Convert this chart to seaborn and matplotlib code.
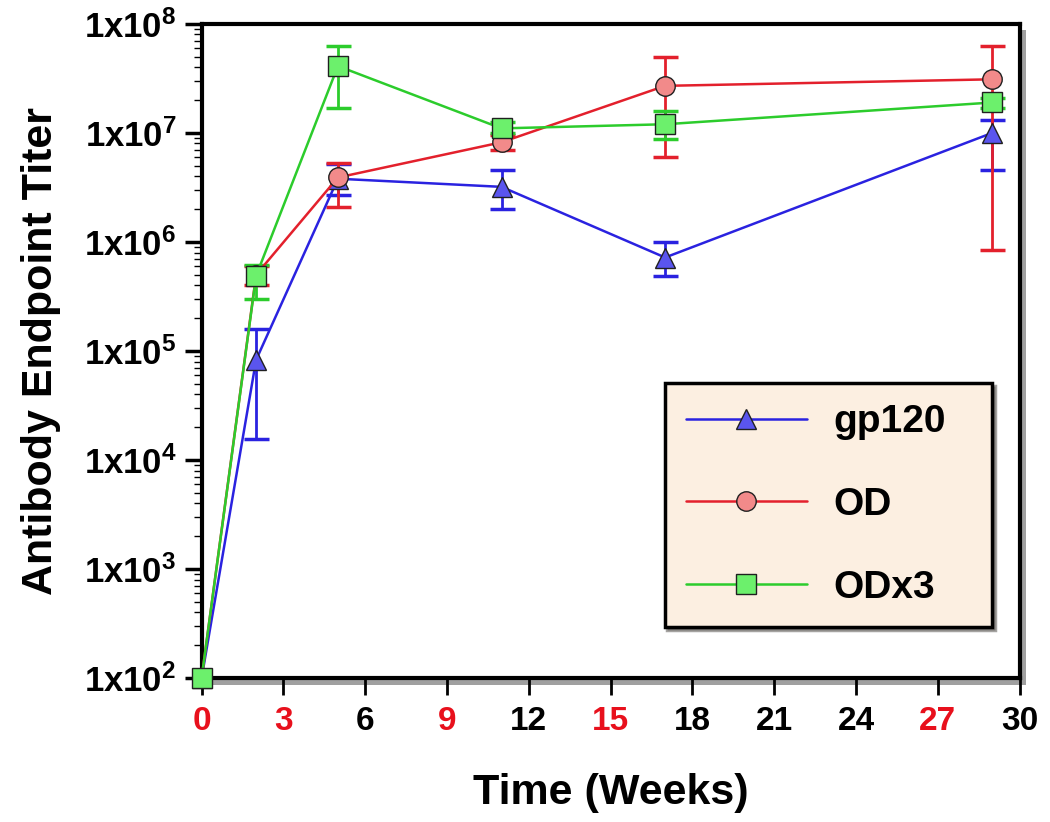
"""Antibody endpoint titer over time for three immunogens."""

import matplotlib
matplotlib.use("Agg")
import matplotlib.pyplot as plt
import matplotlib.patches as mpatches
from matplotlib.ticker import FixedLocator, FuncFormatter, LogLocator, NullFormatter
import numpy as np
import pandas as pd
import seaborn as sns

WEEKS = [0, 2, 5, 11, 17, 29]

GP120 = [1e2, 8.3e4, 3.8e6, 3.2e6, 7.2e5, 1.0e7]
GP120_LO = [1e2, 1.55e4, 2.7e6, 2.0e6, 4.9e5, 4.6e6]
GP120_HI = [1e2, 1.6e5, 5.2e6, 4.6e6, 1.0e6, 1.3e7]

OD = [1e2, 5.0e5, 3.9e6, 8.2e6, 2.7e7, 3.1e7]
OD_LO = [1e2, 4.0e5, 2.1e6, 7.0e6, 6.0e6, 8.5e5]
OD_HI = [1e2, 6.0e5, 5.3e6, 9.5e6, 5.0e7, 6.2e7]

ODX3 = [1e2, 4.9e5, 4.1e7, 1.1e7, 1.2e7, 1.9e7]
ODX3_LO = [1e2, 3.0e5, 1.7e7, 1.0e7, 8.8e6, 1.7e7]
ODX3_HI = [1e2, 6.2e5, 6.3e7, 1.25e7, 1.6e7, 2.1e7]

SERIES = ["gp120", "OD", "ODx3"]
LINE_COLORS = {"gp120": "#2a22e0", "OD": "#e3202c", "ODx3": "#2ccc2c"}
FACE_COLORS = {"gp120": "#5a55ee", "OD": "#f28a8a", "ODx3": "#6cf06c"}
MARKERS = {"gp120": "^", "OD": "o", "ODx3": "s"}

X_TICKS = list(range(0, 31, 3))
RED_TICKS = [0, 3, 9, 15, 27]

sns.set_theme(style="white")
plt.rcParams["font.family"] = ["Liberation Sans", "DejaVu Sans"]
plt.rcParams["mathtext.fontset"] = "custom"
plt.rcParams["mathtext.rm"] = "Liberation Sans:bold"
plt.rcParams["mathtext.it"] = "Liberation Sans:bold"
plt.rcParams["mathtext.bf"] = "Liberation Sans:bold"
for key in ["text.color", "axes.labelcolor", "xtick.color", "ytick.color"]:
    plt.rcParams[key] = "black"

# long-form table for seaborn
frames = []
for name, vals, lo, hi in [
    ("gp120", GP120, GP120_LO, GP120_HI),
    ("OD", OD, OD_LO, OD_HI),
    ("ODx3", ODX3, ODX3_LO, ODX3_HI),
]:
    frames.append(pd.DataFrame({"week": WEEKS, "titer": vals, "lo": lo, "hi": hi, "group": name}))
df = pd.concat(frames, ignore_index=True)

fig = plt.figure(figsize=(10.5, 8.22), dpi=100)
ax = fig.add_axes([0.192, 0.175, 0.779, 0.796])

# drop shadow behind the frame
shadow = mpatches.Rectangle((0.192 + 0.006, 0.175 - 0.008), 0.779, 0.796,
                            transform=fig.transFigure, facecolor="#a0a0a0",
                            edgecolor="none", zorder=-1)
fig.patches.append(shadow)
ax.set_facecolor("white")

for name in SERIES:
    sub = df[df.group == name]
    ax.errorbar(sub.week, sub.titer,
                yerr=[sub.titer - sub.lo, sub.hi - sub.titer],
                fmt="none", ecolor=LINE_COLORS[name], elinewidth=2,
                capsize=9, capthick=2.5, zorder=2)

n_before = len(ax.get_lines())
sns.lineplot(data=df, x="week", y="titer", hue="group", style="group",
             hue_order=SERIES, style_order=SERIES,
             palette=LINE_COLORS, markers=MARKERS, dashes=False,
             linewidth=1.8, markersize=14, ax=ax, legend=False, zorder=3)

# marker face and edge colouring
for line, name in zip(ax.get_lines()[n_before:], SERIES):
    line.set_markerfacecolor(FACE_COLORS[name])
    line.set_markeredgecolor("#202020")
    line.set_markeredgewidth(1.0)
    line.set_clip_on(False)

ax.set_yscale("log")
ax.set_xlim(0, 30)
ax.set_ylim(1e2, 1e8)
ax.xaxis.set_major_locator(FixedLocator(X_TICKS))
ax.yaxis.set_major_locator(LogLocator(base=10, numticks=10))
ax.yaxis.set_minor_locator(LogLocator(base=10, subs=np.arange(2, 10), numticks=20))
ax.yaxis.set_minor_formatter(NullFormatter())
ax.yaxis.set_major_formatter(FuncFormatter(lambda v, p: r"$1x10^{%d}$" % round(np.log10(v))))

ax.tick_params(axis="y", which="major", direction="out", length=12, width=2.5,
               labelsize=25, pad=6, left=True)
ax.tick_params(axis="y", which="minor", direction="out", length=6, width=1, left=True)
ax.tick_params(axis="x", which="major", direction="out", length=12, width=2,
               labelsize=24, pad=8, bottom=True)
for lab in ax.get_xticklabels():
    lab.set_fontweight("bold")
    if int(lab.get_text()) in RED_TICKS:
        lab.set_color("#e8101c")

for side in ["left", "right", "top", "bottom"]:
    ax.spines[side].set_visible(True)
    ax.spines[side].set_color("black")
    ax.spines[side].set_linewidth(3)

ax.set_xlabel("Time (Weeks)", fontsize=31, fontweight="bold", labelpad=26)
ax.set_ylabel("Antibody Endpoint Titer", fontsize=31, fontweight="bold", labelpad=16)

handles = []
for name in SERIES:
    handles.append(plt.Line2D([], [], color=LINE_COLORS[name], lw=1.8,
                              marker=MARKERS[name], markersize=14,
                              markerfacecolor=FACE_COLORS[name],
                              markeredgecolor="#202020", markeredgewidth=1.0))
leg = ax.legend(handles, SERIES, loc="upper left", bbox_to_anchor=(0.566, 0.451, 0.40, 0.0),
                mode="expand", frameon=True, fancybox=False, shadow=True,
                facecolor="#fcefe1", edgecolor="black", framealpha=1,
                prop={"weight": "bold", "size": 28}, handlelength=3.1,
                labelspacing=1.2, borderpad=0.55, handletextpad=0.7, borderaxespad=0)
leg.get_frame().set_linewidth(2.5)

fig.savefig("out.png", dpi=100)
